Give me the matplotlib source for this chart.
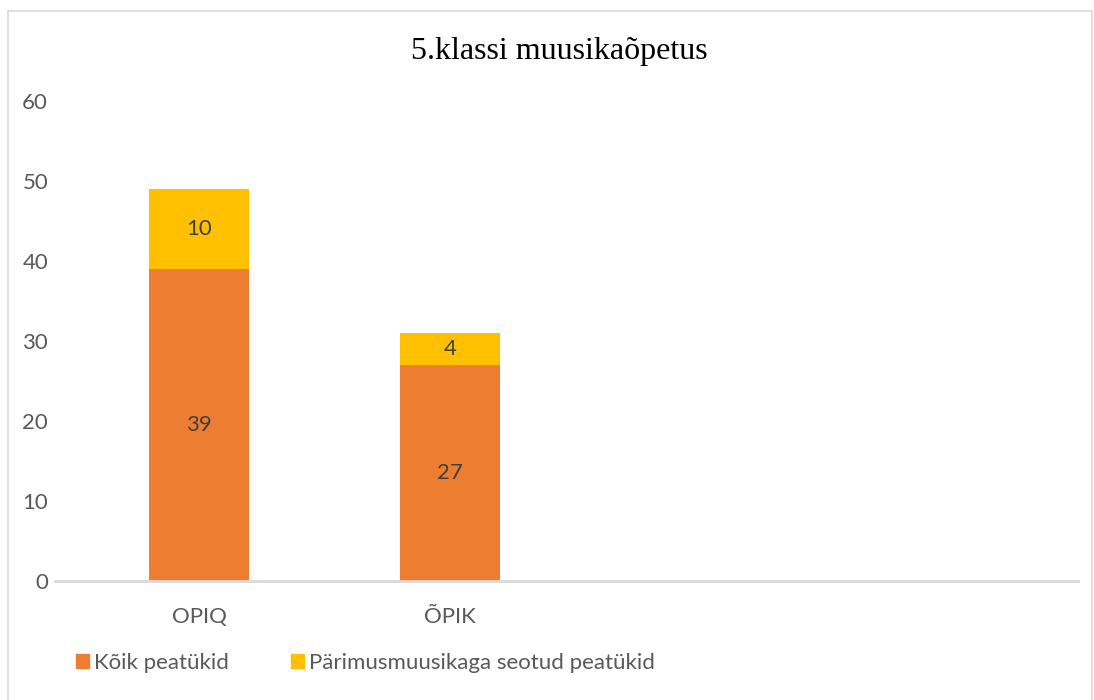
import numpy as np
import matplotlib.pyplot as plt
from matplotlib.patches import Rectangle

# data
categories = ["OPIQ", "ÕPIK", "", ""]
koik = [39, 27, 0, 0]
parimus = [10, 4, 0, 0]
series_names = ["Kõik peatükid", "Pärimusmuusikaga seotud peatükid"]

ORANGE = "#ED7D31"
YELLOW = "#FFC000"
TXT = "#595959"
LBL = "#404040"

plt.rcParams['font.family'] = ['Lato', 'DejaVu Sans']

W, H = 1094, 700
fig = plt.figure(figsize=(W / 100, H / 100), dpi=100)

# outer chart border
fig.patches.append(Rectangle((8 / W, -0.01), (1092 - 8) / W, (H - 11) / H + 0.01,
                             transform=fig.transFigure, fill=False,
                             edgecolor="#D9D9D9", linewidth=1.2))

ax_l, ax_r, ax_b, ax_t = 55, 1078, 581, 101
ax = fig.add_axes([ax_l / W, (H - ax_b) / H, (ax_r - ax_l) / W, (ax_b - ax_t) / H])

x = np.arange(len(categories))
n = 2  # only first two categories have bars
ax.bar(x[:n], koik[:n], width=0.4, color=ORANGE, label=series_names[0])
ax.bar(x[:n], parimus[:n], width=0.4, bottom=koik[:n], color=YELLOW,
       label=series_names[1])

for i in range(n):
    ax.text(x[i], koik[i] / 2, str(koik[i]), ha="center", va="center",
            fontsize=16, color=LBL)
    ax.text(x[i], koik[i] + parimus[i] / 2, str(parimus[i]), ha="center",
            va="center", fontsize=16, color=LBL)

ax.set_xlim(-144 / 251, 3.5)
ax.set_ylim(0, 60)
ax.set_yticks(range(0, 61, 10))
ax.set_xticks(x[:n])
ax.set_xticklabels(categories[:n])
ax.tick_params(axis="both", length=0, labelsize=16, colors=TXT)
ax.tick_params(axis="y", pad=5)
ax.tick_params(axis="x", pad=19)
for s in ["top", "right", "left"]:
    ax.spines[s].set_visible(False)
ax.spines["bottom"].set_color("#D9D9D9")
ax.spines["bottom"].set_linewidth(2)

fig.text(559 / W, 1 - 52 / H, "5.klassi muusikaõpetus", ha="center", va="center",
         fontsize=23, family="Liberation Serif", color="black")

handles = [Rectangle((0, 0), 1, 1, color=ORANGE), Rectangle((0, 0), 1, 1, color=YELLOW)]
fig.legend(handles, series_names, loc="center left",
           bbox_to_anchor=(56 / W, 1 - 663 / H), ncol=2, frameon=False,
           fontsize=16, labelcolor=TXT, handlelength=0.6, handleheight=0.6,
           handletextpad=0.2, columnspacing=2.8)

fig.savefig("out.png", dpi=100)
